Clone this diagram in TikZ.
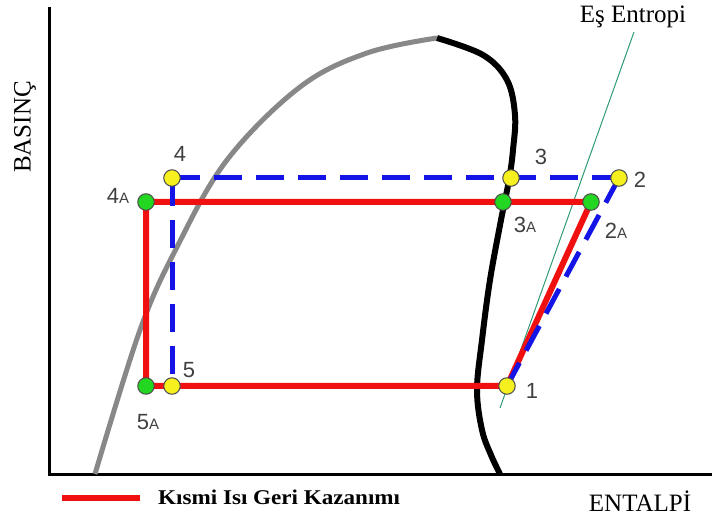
\documentclass[tikz,border=0pt]{standalone}
\usepackage{fontspec}
\setmainfont{Liberation Serif}
\newfontfamily\numfont{Liberation Sans}
\definecolor{dotyellow}{HTML}{F5F01E}
\definecolor{dotgreen}{HTML}{22D622}
\definecolor{redline}{HTML}{F01010}
\definecolor{blueline}{HTML}{1414E6}
\definecolor{isen}{HTML}{2E9A78}
\definecolor{satgray}{HTML}{888888}
\begin{document}
\begin{tikzpicture}[x=1pt,y=-1pt,
  ydot/.style={circle, fill=dotyellow, draw=black!70, line width=1pt, minimum size=16.5pt, inner sep=0pt},
  gdot/.style={circle, fill=dotgreen, draw=black!70, line width=1pt, minimum size=16.5pt, inner sep=0pt},
  lbl/.style={font=\numfont\fontsize{22}{22}\selectfont, text=black!75, inner sep=0pt},
  axlbl/.style={font=\fontsize{25}{25}\selectfont, inner sep=0pt},
  redl/.style={line width=6pt, draw=redline},
  bluel/.style={line width=5pt, draw=blueline, dash pattern=on 28pt off 14pt},
  axisl/.style={line width=3pt, draw=black}]
\useasboundingbox (0,0) rectangle (712,518);
% axes
\coordinate (ytop) at (49,7);
\coordinate (orig) at (49,474);
\coordinate (xend) at (712,474);
\draw[axisl] (ytop) -- (orig) -- (xend);
% saturation curves
\draw[line width=5pt, satgray] plot[smooth, tension=0.6] coordinates {(95,474) (140,330) (177,247) (227,160) (300,87) (367,53) (437,38)};
\draw[line width=6pt, black] plot[smooth, tension=0.6] coordinates {(437,38) (483,55) (507,80) (515,115) (513,150) (509,180) (501,220) (490,280) (482,340) (477,390) (482,430) (491,455) (500,474)};
% isentropic line
\coordinate (es1) at (500,408);
\coordinate (es2) at (634,32);
\draw[isen, line width=1pt] (es1) -- (es2);
% points
\coordinate (c4) at (172,178);
\coordinate (c4a) at (146,202);
\coordinate (c3) at (511,178);
\coordinate (c3a) at (503,202);
\coordinate (c2) at (619,178);
\coordinate (c2a) at (591,202);
\coordinate (c1) at (507,386);
\coordinate (c5) at (172,386);
\coordinate (c5a) at (146,386);
% red cycle
\draw[redl] (c1) -- (c5a) -- (c4a) -- (c2a) -- cycle;
% blue dashed cycle
\draw[bluel] (c4) -- (c2);
\draw[bluel] (c2) -- (c1);
\draw[bluel] (c4) -- (c5);
% dots
\node[ydot] (p4) at (c4) {};
\node[gdot] (p4a) at (c4a) {};
\node[ydot] (p3) at (c3) {};
\node[gdot] (p3a) at (c3a) {};
\node[ydot] (p2) at (c2) {};
\node[gdot] (p2a) at (c2a) {};
\node[ydot] (p1) at (c1) {};
\node[ydot] (p5) at (c5) {};
\node[gdot] (p5a) at (c5a) {};
% point labels
\node[lbl] (l4) at (180,154) {4};
\node[lbl] (l4a) at (118,196) {4{\fontsize{15}{15}\selectfont A}};
\node[lbl] (l3) at (541,157) {3};
\node[lbl] (l3a) at (525,225) {3{\fontsize{15}{15}\selectfont A}};
\node[lbl] (l2) at (640,180) {2};
\node[lbl] (l2a) at (616,231) {2{\fontsize{15}{15}\selectfont A}};
\node[lbl] (l1) at (532,391) {1};
\node[lbl] (l5) at (189,370) {5};
\node[lbl] (l5a) at (148,422) {5{\fontsize{15}{15}\selectfont A}};
% axis labels
\node[axlbl, rotate=90] (basinc) at (25,127) {BASINÇ};
\node[axlbl] (entalpi) at (640,501) {ENTALPİ};
\node[axlbl] (esent) at (633,17) {Eş Entropi};
% legend
\coordinate (lg1) at (62,498);
\coordinate (lg2) at (140,498);
\draw[redl] (lg1) -- (lg2);
\node[font=\bfseries\fontsize{21}{21}\selectfont, anchor=west, inner sep=0pt, xscale=1.1] (legtxt) at (158,497) {Kısmi Isı Geri Kazanımı};
\end{tikzpicture}
\end{document}
